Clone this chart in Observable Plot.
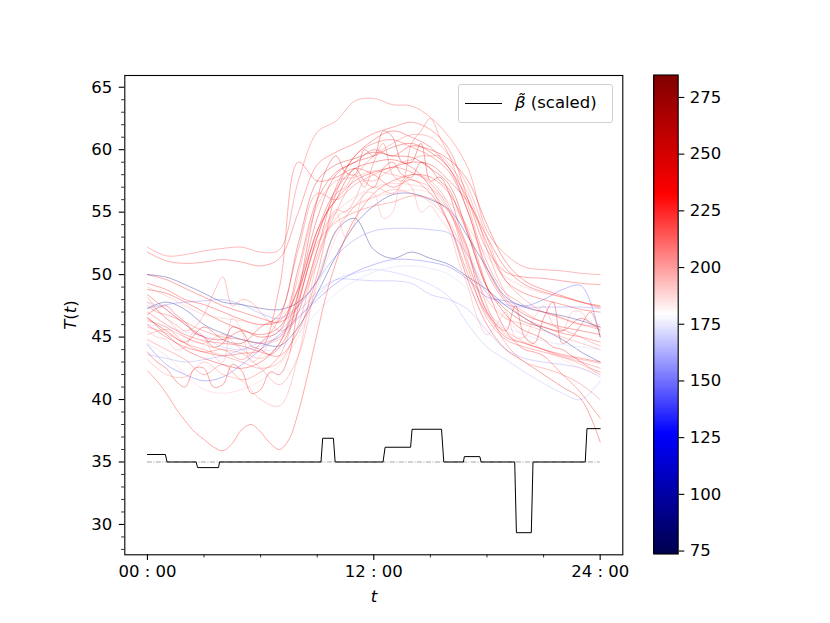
<!DOCTYPE html>
<html><head><meta charset="utf-8">
<script src="https://cdn.jsdelivr.net/npm/d3@7"></script>
<script src="https://cdn.jsdelivr.net/npm/@observablehq/plot@0.6"></script>
<style>
body{margin:0;background:#fff;}
#wrap{position:relative;width:830px;height:623px;background:#fff;font-family:"DejaVu Sans",sans-serif;overflow:hidden;}
#wrap svg{position:absolute;left:0;top:0;}
.lbl{position:absolute;font-size:16px;color:#000;white-space:nowrap;line-height:1;}
</style></head><body><div id="wrap"></div>
<script>
// ---- data ----
const hours = [0,1,2,3,4,5,6,7,8,9,10,11,12,13,14,15,16,17,18,19,20,21,22,23,24];
const halfHours = [0,0.5,1,1.5,2,2.5,3,3.5,4,4.5,5,5.5,6,6.5,7,7.5,8,8.5,9,9.5,10,10.5,11,11.5,12,12.5,13,13.5,14,14.5,15,15.5,16,16.5,17,17.5,18,18.5,19,19.5,20,20.5,21,21.5,22,22.5,23,23.5,24];

// colour value of each curve (colour bar scale)
const curveColor = [222,228,235,90,95,150,140,160,155,168,182,195,230,240,210,245,220,205,232,215,225,238,212,250,218,200,228,215,243,220,208,235,178];

// temperature curves: 25 values = hourly samples, 49 values = half-hourly samples
const c01 = [52.2,51.5,51.6,51.9,52.1,52.2,51.8,52.0,57.5,61.4,62.3,63.9,64.1,63.6,63.5,62.6,61.0,58.5,53.5,51.6,50.6,50.4,50.3,50.1,50.0];
const c02 = [51.8,51.1,50.9,51.0,51.2,51.0,50.7,51.3,55.0,58.8,59.8,60.5,61.3,61.8,62.2,61.6,60.0,56.0,52.0,50.2,49.8,49.7,49.5,49.3,49.2];
const c03 = [50.0,49.6,48.9,48.2,47.5,47.0,46.5,46.2,47.5,52.0,57.0,59.5,60.8,61.5,61.0,60.2,58.5,56.0,52.5,49.5,48.5,48.0,47.6,47.2,47.0];
const c04 = [50.0,49.8,49.2,48.5,47.8,47.6,47.3,47.2,47.8,49.5,53.5,54.5,52.0,51.3,51.8,51.3,50.8,49.8,48.8,47.5,46.5,45.6,44.8,43.8,43.0];
const c05 = [47.3,47.8,47.2,46.0,45.3,44.8,44.5,44.3,45.8,48.5,51.5,54.0,55.5,56.4,56.5,56.0,55.2,53.0,50.5,48.2,47.4,47.0,46.7,46.3,45.8];
const c06 = [47.3,47.6,47.8,47.9,48.0,47.6,46.9,46.5,47.5,49.5,51.5,52.8,53.5,53.7,53.7,53.6,53.3,51.5,48.5,47.6,47.4,47.4,47.4,47.4,47.3];
const c07 = [44.4,42.8,42.0,41.5,41.8,42.8,44.0,45.2,46.6,48.0,49.3,50.2,50.8,51.2,51.2,51.0,50.6,49.6,48.2,47.9,47.5,48.0,48.8,49.1,45.0];
const c08 = [47.8,47.2,46.0,45.0,44.2,44.0,44.3,45.0,46.5,48.3,49.6,50.1,50.4,50.2,49.8,49.2,48.2,46.0,44.2,43.2,42.2,41.3,40.5,40.0,41.5];
const c09 = [43.6,43.3,43.0,43.2,43.5,44.0,44.6,45.5,47.0,48.6,49.6,49.6,49.5,49.5,49.3,48.4,48.0,47.2,45.5,44.0,43.3,43.0,42.8,42.5,41.8];
const c10 = [46.0,45.8,45.4,45.1,44.7,44.2,43.9,44.1,45.3,47.0,48.5,49.5,50.2,50.6,50.7,50.5,50.0,48.8,47.0,45.8,45.2,44.7,44.4,44.2,44.0];
const c11 = [45.0,44.3,43.5,42.8,42.3,42.0,42.3,43.3,45.5,48.0,49.8,50.8,51.0,51.2,50.8,50.2,49.5,48.2,46.8,45.5,44.9,44.6,44.3,44.0,43.7];
const c12 = [44.5,43.5,42.0,40.8,40.5,40.8,41.5,42.8,45.0,49.0,53.0,55.5,56.2,56.5,56.8,56.5,55.0,52.0,48.5,46.5,45.0,44.0,43.2,42.5,42.0];
const c13 = [42.3,41.5,40.5,39.3,38.3,37.4,36.8,36.2,35.9,36.5,37.6,38.0,37.4,36.5,36.0,36.8,39.0,42.0,45.3,48.5,51.0,53.0,54.5,55.6,56.5,57.1,57.5,57.8,58.0,58.0,57.8,57.3,56.5,55.2,53.5,51.3,49.0,47.0,45.5,44.6,44.0,43.8,43.5,42.8,42.0,41.3,40.5,39.5,38.5];
const c14 = [48.8,48.5,47.8,47.0,46.2,45.6,45.2,45.8,49.0,54.5,58.0,59.0,59.5,60.2,60.5,59.8,58.5,55.0,50.5,48.0,46.8,46.2,45.8,45.5,45.2];
const c15 = [47.8,46.5,45.0,44.5,45.2,44.0,43.3,44.5,50.0,55.5,57.5,57.8,58.3,58.0,57.6,57.0,55.0,51.5,48.0,46.5,46.0,45.5,45.0,44.5,44.0];
const c16 = [46.8,47.3,47.5,46.8,46.2,45.3,45.0,44.2,44.5,45.8,45.5,44.3,44.0,43.6,44.2,45.5,48.5,52.5,56.0,58.5,59.5,58.2,58.0,60.0,59.5,61.5,61.0,59.0,59.0,60.5,57.5,57.8,56.5,54.0,52.0,49.0,47.0,46.0,45.5,47.5,45.0,44.5,46.5,47.8,44.5,45.0,46.0,47.0,45.0];
const c17 = [46.3,45.8,44.5,43.8,44.0,43.2,44.5,46.5,52.0,56.5,56.0,57.2,58.0,58.6,58.2,57.3,55.2,50.5,46.5,44.8,44.2,43.8,43.4,43.0,42.5];
const c18 = [45.5,45.0,44.8,44.0,44.2,45.5,45.0,43.5,43.0,46.5,45.5,43.0,43.5,44.5,44.8,45.5,47.0,49.0,51.0,53.5,55.0,53.0,54.2,56.5,56.5,54.5,55.0,57.5,57.0,55.0,55.5,54.5,53.5,51.0,49.0,46.5,45.2,46.0,47.0,45.0,45.0,46.5,47.5,46.0,45.5,47.0,47.0,46.0,46.0];
const c19 = [49.3,48.8,48.0,47.6,47.0,46.4,46.0,46.3,48.8,53.5,56.0,57.5,58.2,58.6,59.0,58.8,57.5,55.8,53.0,50.5,49.2,48.6,48.2,47.8,47.5];
const c20 = [48.2,47.2,46.5,46.0,45.5,45.8,46.8,48.5,49.8,47.5,48.0,47.8,47.0,46.2,45.5,45.8,47.0,49.5,52.0,54.0,55.2,55.0,56.0,57.5,57.5,58.0,58.5,59.0,59.2,59.5,59.5,59.5,58.8,57.8,56.5,54.5,52.0,50.0,48.5,47.5,47.0,46.5,46.2,45.9,45.6,45.3,45.0,44.6,44.3];
const c21 = [47.0,46.0,45.2,44.7,44.5,44.3,43.8,43.5,45.5,50.0,56.5,59.5,60.5,60.8,60.2,59.5,58.2,55.0,50.2,47.8,46.5,45.8,45.3,45.0,44.6];
const c22 = [43.8,43.0,42.5,41.5,41.0,42.5,42.5,41.0,41.2,42.8,42.3,40.5,40.8,42.2,42.0,43.5,47.5,50.5,53.0,55.0,56.0,57.5,58.5,57.5,57.0,58.5,59.0,58.0,57.8,59.0,58.5,57.5,56.8,55.0,53.2,51.0,49.0,47.8,46.8,46.0,45.5,45.2,44.8,44.2,44.0,43.5,43.0,42.5,42.2];
const c23 = [45.2,45.6,45.0,44.4,44.0,43.7,42.5,41.2,43.5,49.5,53.5,55.5,57.0,56.5,58.0,57.5,55.5,51.0,47.0,45.2,44.5,44.0,43.5,43.2,42.9];
const c24 = [46.5,45.5,44.6,45.8,44.8,44.5,45.8,46.8,52.5,57.5,58.8,59.3,59.8,59.5,59.4,58.5,57.2,53.2,49.0,47.2,46.2,45.8,45.5,46.5,45.5];
const c25 = [44.8,44.0,43.2,42.0,42.8,41.6,42.2,43.5,47.8,52.5,54.2,55.0,55.5,55.8,56.3,56.1,55.0,51.8,47.5,44.5,43.0,42.5,42.0,41.2,40.0];
const c26 = [49.0,48.3,47.5,46.8,46.5,46.3,46.0,46.5,49.5,53.0,55.0,56.2,57.0,57.3,57.2,56.8,55.8,53.8,51.5,49.8,49.0,48.5,48.2,47.8,47.3];
const c27 = [46.0,45.0,44.2,43.8,43.5,43.7,44.0,49.0,59.0,57.5,57.8,58.5,58.0,57.0,57.6,56.5,54.0,50.0,46.8,45.0,44.5,44.0,43.6,43.3,43.0];
const c28 = [45.8,45.3,44.5,44.0,43.5,43.0,42.5,43.0,46.0,51.5,55.0,57.8,59.5,60.5,61.2,61.0,59.5,57.0,53.0,49.5,48.0,47.0,46.5,46.0,45.6];
const c29 = [46.6,45.2,44.0,43.3,42.8,42.5,43.0,44.5,48.5,53.5,56.8,58.5,59.0,59.2,58.6,57.0,54.0,49.5,46.0,44.0,43.0,42.0,41.0,40.0,36.6];
const c30 = [47.5,47.0,46.8,46.5,46.2,45.8,45.5,45.2,45.0,44.9,44.8,44.6,44.5,44.7,45.0,46.0,48.0,50.5,53.0,55.0,56.5,57.0,58.0,57.0,59.0,60.5,58.0,57.5,60.5,61.5,62.5,61.0,59.5,57.5,55.5,53.0,51.0,49.5,48.5,48.0,47.5,47.2,47.0,46.8,46.5,46.2,46.0,45.9,45.8];
const c31 = [43.2,42.0,41.8,43.0,42.0,41.5,40.0,39.5,43.5,51.0,54.5,55.5,56.2,56.8,56.5,55.8,54.2,50.8,47.2,45.5,44.6,44.0,43.4,42.8,42.0];
const c32 = [48.4,47.2,46.0,45.0,44.8,45.5,45.0,45.5,50.5,56.0,58.2,59.0,60.0,59.5,60.3,60.0,59.2,57.5,54.0,51.0,49.5,48.8,48.3,47.8,47.4];
const c33 = [42.5,41.6,40.6,39.6,39.8,40.5,41.3,42.5,44.8,47.5,49.0,49.8,50.3,50.5,50.2,49.6,48.5,46.8,45.0,43.8,43.0,42.3,41.5,40.8,40.2];
const curves = [c01,c02,c03,c04,c05,c06,c07,c08,c09,c10,c11,c12,c13,c14,c15,c16,c17,c18,c19,c20,c21,c22,c23,c24,c25,c26,c27,c28,c29,c30,c31,c32,c33];

// scaled beta (step function as sampled)
const betaT = [0,0.95,1.04,2.58,2.66,3.77,3.82,9.2,9.29,9.86,9.95,12.49,12.6,13.95,14.03,15.59,15.71,16.75,16.8,17.62,17.69,19.47,19.56,20.35,20.44,23.21,23.3,24];
const betaV = [35.6,35.6,35,35,34.55,34.55,35,35,36.9,36.9,35,35,36.18,36.18,37.62,37.62,35,35,35.43,35.43,35,35,29.34,29.34,35,35,37.67,37.67];
const baseline = 35;

const xMajor = [0,12,24];
const xMinor = [3,6,9,15,18,21];
const yMajor = [30,35,40,45,50,55,60,65];
const yMinor = [28,29,31,32,33,34,36,37,38,39,41,42,43,44,46,47,48,49,51,52,53,54,56,57,58,59,61,62,63,64];
const cbTicks = [75,100,125,150,175,200,225,250,275];
const cMin = 73.7, cMax = 284.9;
const seismicStops = ["#00004d","#0000ff","#ffffff","#ff0000","#800000"];

// ---- build ----
const W = 830, H = 623;
const fr = {left:124.3, right:622.3, top:75, bottom:554.3};
const cStops = [0,0.25,0.5,0.75,1].map(f => cMin + f*(cMax-cMin));
const colorOpt = {type:"linear", domain:cStops, range:seismicStops, interpolate:"rgb"};

const lineData = [];
curves.forEach((arr, i) => {
  const ts = arr.length === hours.length ? hours : halfHours;
  arr.forEach((v, j) => lineData.push({id:i, t:ts[j], v, c:curveColor[i]}));
});
const betaData = betaT.map((t, i) => ({t, v:betaV[i]}));

const style = {fontFamily:"DejaVu Sans", fontSize:"16px", background:"transparent", overflow:"visible", color:"#000"};
const TK = 5.6, TKm = 3.2;

const main = Plot.plot({
  width:W, height:H,
  marginLeft:fr.left, marginRight:W-fr.right, marginTop:fr.top, marginBottom:H-fr.bottom,
  x:{domain:[-1.2,25.2]},
  y:{domain:[27.57,65.94]},
  color:colorOpt,
  style,
  marks:[
    Plot.line(lineData, {x:"t", y:"v", z:"id", stroke:"c", curve:"catmull-rom", strokeWidth:0.75, strokeOpacity:0.45}),
    Plot.ruleY([baseline], {x1:hours[0], x2:hours[hours.length-1], stroke:"#9a9a9a", strokeWidth:0.9, strokeDasharray:"5,1.5,1,1.5"}),
    Plot.line(betaData, {x:"t", y:"v", stroke:"black", strokeWidth:1.0}),
    Plot.frame({stroke:"black", strokeWidth:1.1}),
    Plot.axisX(xMinor, {tickSize:TKm, tickFormat:()=>"", strokeWidth:0.8, label:null}),
    Plot.axisX(xMajor, {tickSize:TK, tickPadding:5, strokeWidth:1.1, label:null, fontSize:16.5,
      tickFormat:d => String(d).padStart(2,"0") + " : " + "00"}),
    Plot.axisY(yMinor, {tickSize:TKm, tickFormat:()=>"", strokeWidth:0.8, label:null}),
    Plot.axisY(yMajor, {tickSize:TK, tickPadding:7, strokeWidth:1.1, label:null, fontSize:16.5})
  ]
});

const step = 0.5;
const cbSteps = d3.range(cMin, cMax, step);
const cb = Plot.plot({
  width:W, height:H,
  marginLeft:653.3, marginRight:W-677.7, marginTop:74.5, marginBottom:H-553.5,
  x:{domain:[0,1], axis:null},
  y:{domain:[cMin,cMax]},
  color:colorOpt,
  style,
  marks:[
    Plot.rect(cbSteps, {x1:0, x2:1, y1:d=>d, y2:d=>Math.min(cMax, d+step*1.6), fill:d=>d+step/2, shapeRendering:"crispEdges"}),
    Plot.frame({stroke:"black", strokeWidth:1.1}),
    Plot.axisY(cbTicks, {anchor:"right", tickSize:TK, tickPadding:6, strokeWidth:1.1, label:null, fontSize:16.5})
  ]
});

const wrap = document.getElementById("wrap");
wrap.appendChild(main);
wrap.appendChild(cb);

// axis labels and legend (HTML text)
function addLabel(html, css){
  const d = document.createElement("div");
  d.className = "lbl";
  d.innerHTML = html;
  Object.assign(d.style, css);
  wrap.appendChild(d);
  return d;
}
addLabel("<i>t</i>", {left:"374px", top:"597px", transform:"translate(-50%,-50%)", fontSize:"16.5px"});
addLabel("<i>T</i>(<i>t</i>)", {left:"71px", top:"315px", transform:"translate(-50%,-50%) rotate(-90deg)", fontSize:"16.5px"});

const lg = document.createElement("div");
Object.assign(lg.style, {position:"absolute", left:"458px", top:"84px", width:"153px", height:"37px",
  border:"1px solid #d0d0d0", borderRadius:"3px", background:"rgba(255,255,255,0.8)"});
wrap.appendChild(lg);
const ln = document.createElement("div");
Object.assign(ln.style, {position:"absolute", left:"465px", top:"102.8px", width:"37px", height:"0", borderTop:"1.1px solid #000"});
wrap.appendChild(ln);
addLabel("<i>β̃</i> (scaled)", {left:"515px", top:"103px", transform:"translateY(-50%)", fontSize:"16.5px"});
</script></body></html>
